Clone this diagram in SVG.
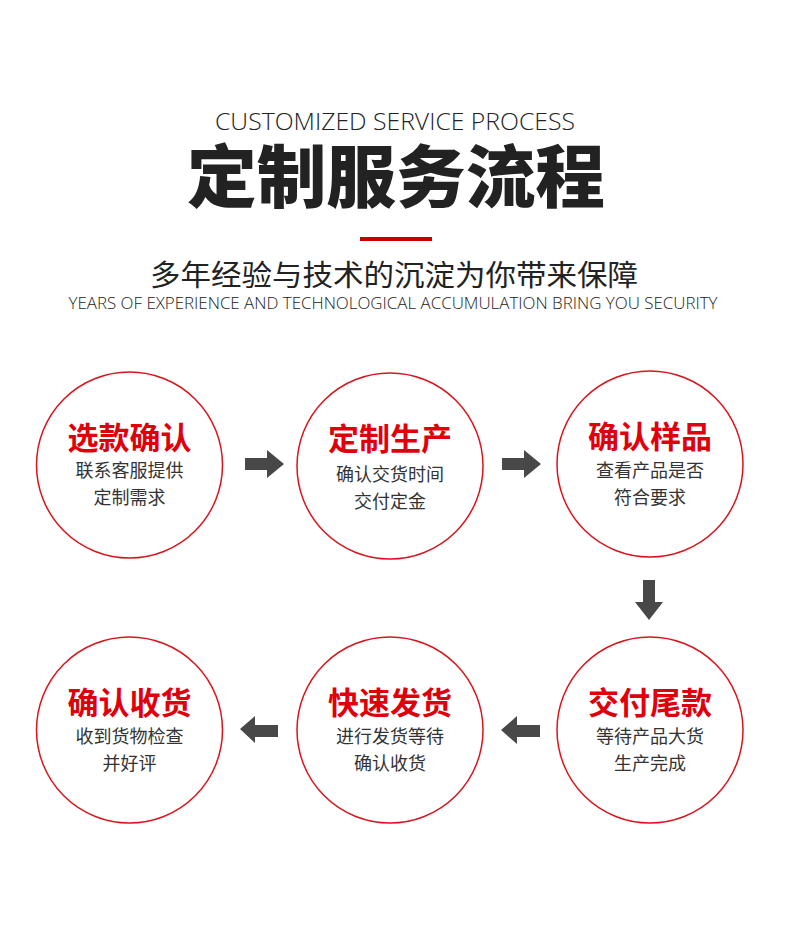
<svg xmlns="http://www.w3.org/2000/svg" width="790" height="949" viewBox="0 0 790 949">
<style>
.en{font-family:"Open Sans","Noto Sans",sans-serif;font-weight:300;fill:#222}
.cn{font-family:"Noto Sans CJK SC",sans-serif;fill:#222}
.ring{fill:#fff;stroke:#d9141c;stroke-width:1.5}
.t{font-family:"Noto Sans CJK SC",sans-serif;font-weight:700;font-size:31px;fill:#e0000b;text-anchor:middle}
.s{font-family:"Noto Sans CJK SC",sans-serif;font-size:18px;fill:#333;text-anchor:middle}
.arr{fill:#484848}
</style>
<rect width="790" height="949" fill="#fff"/>
<g id="header">
<text class="en" x="395" y="130" font-size="24" font-weight="400" text-anchor="middle" textLength="360" lengthAdjust="spacingAndGlyphs">CUSTOMIZED SERVICE PROCESS</text>
<text class="cn" x="396" y="202" font-size="68" font-weight="900" text-anchor="middle" textLength="418" lengthAdjust="spacingAndGlyphs" fill="#1a1a1a">定制服务流程</text>
<rect x="360" y="237" width="72" height="4" fill="#c40000"/>
<text class="cn" x="394" y="286" font-size="29" text-anchor="middle" textLength="488" lengthAdjust="spacingAndGlyphs">多年经验与技术的沉淀为你带来保障</text>
<text class="en" x="393" y="309" font-size="16" font-weight="400" text-anchor="middle" textLength="649" lengthAdjust="spacingAndGlyphs">YEARS OF EXPERIENCE AND TECHNOLOGICAL ACCUMULATION BRING YOU SECURITY</text>
</g>
<g id="step1">
<circle class="ring" cx="129.5" cy="465" r="93"/>
<text class="t" x="129.5" y="449">选款确认</text>
<text class="s" x="129.5" y="477">联系客服提供</text>
<text class="s" x="129.5" y="504">定制需求</text>
</g>
<g id="step2">
<circle class="ring" cx="390" cy="466" r="93"/>
<text class="t" x="390" y="450">定制生产</text>
<text class="s" x="390" y="481">确认交货时间</text>
<text class="s" x="390" y="508">交付定金</text>
</g>
<g id="step3">
<circle class="ring" cx="650" cy="464" r="93"/>
<text class="t" x="650" y="448">确认样品</text>
<text class="s" x="650" y="477">查看产品是否</text>
<text class="s" x="650" y="504">符合要求</text>
</g>
<g id="step4">
<circle class="ring" cx="650" cy="730" r="93"/>
<text class="t" x="650" y="714">交付尾款</text>
<text class="s" x="650" y="743">等待产品大货</text>
<text class="s" x="650" y="770">生产完成</text>
</g>
<g id="step5">
<circle class="ring" cx="390" cy="730" r="93"/>
<text class="t" x="390" y="714">快速发货</text>
<text class="s" x="390" y="743">进行发货等待</text>
<text class="s" x="390" y="770">确认收货</text>
</g>
<g id="step6">
<circle class="ring" cx="129.5" cy="730" r="93"/>
<text class="t" x="129.5" y="714">确认收货</text>
<text class="s" x="129.5" y="743">收到货物检查</text>
<text class="s" x="129.5" y="770">并好评</text>
</g>
<g id="connectors">
<polygon class="arr" points="245,458 267,458 267,450 284,464 267,478 267,470 245,470"/>
<polygon class="arr" points="502,458 524,458 524,450 541,464 524,478 524,470 502,470"/>
<polygon class="arr" points="643,580 655,580 655,602 663,602 649,620 635,602 643,602"/>
<polygon class="arr" points="540,725 517,725 517,716 501,730 517,744 517,737 540,737"/>
<polygon class="arr" points="278,725 255,725 255,716 240,729 255,743 255,737 278,737"/>
</g>
</svg>
